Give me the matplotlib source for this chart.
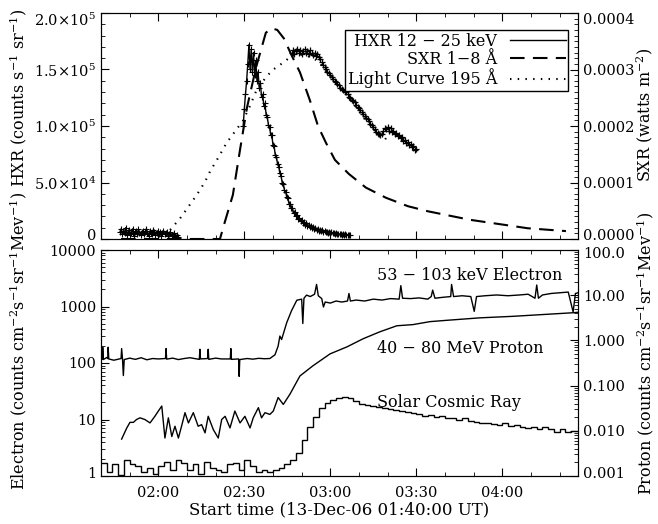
import matplotlib
matplotlib.use("Agg")
import matplotlib.pyplot as plt
import matplotlib.transforms as mtransforms
from matplotlib.ticker import (
    MultipleLocator,
    AutoMinorLocator,
    NullFormatter,
    FuncFormatter,
    LogLocator,
)

# times are minutes after 00:00 UT, 13-Dec-06

# ---------------- top panel ----------------
# HXR before the data gap, sampled every 0.4 min from 01:46.6
hxr_pre_start = 106.6
hxr_pre_flux = [6000, 9000, 4000, 7500, 5000, 10000, 3500, 6500, 8000, 4000,
                5500, 9000, 3000, 6000, 7000, 4500, 8500, 5000, 3500, 6500,
                7500, 4000, 6000, 9000, 5000, 3000, 7000, 5500, 4000, 8000,
                6000, 3500, 5000, 7000, 4500, 6000, 3000, 5500, 7500, 4000,
                5000, 6500, 3000, 4500, 6000, 3500, 2500, 5000, 3000, 2000,
                3500, 1500]

# HXR main burst, sampled every 0.4 min from 02:29.6
hxr_start = 149.6
hxr_flux = [100000, 115000, 128000, 140000, 155000, 172000, 150000, 168000,
            148000, 165000, 145000, 158000, 140000, 148000, 134000, 138000,
            126000, 128000, 118000, 120000, 110000, 108000, 101000, 99000,
            92000, 92000, 83000, 82000, 74000, 73000, 66000, 64000, 58000,
            56000, 50000, 49000, 43000, 42000, 37000, 36000, 31000, 31000,
            27000, 27000, 23000, 23500, 20000, 21000, 17500, 18500, 15500,
            16500, 14000, 15000, 12800, 13800, 11500, 12500, 10500, 11500,
            9500, 10500, 8800, 9600, 8000, 8800, 7400, 8200, 6900, 7600,
            6400, 7000, 6000, 6600, 5600, 6200, 5200, 5800, 4900, 5400,
            4600, 5000, 4300, 4700, 4000, 4400, 3800, 4200, 3500, 4000,
            3300, 3800, 3100, 3600]

sxr_time = [107.0, 139.0, 141.5, 142.9, 146.0, 148.5, 150.9, 154.1, 157.5,
            159.5, 161.5, 163.8, 166.5, 169.4, 172.9, 175.7, 178.5, 181.6,
            186.5, 192.4, 199.4, 207.1, 214.1, 228.7, 248.9, 262.2]
sxr_flux = [0.0, 0.0, 0.0, 2.5e-5, 7.8e-5, 1.58e-4, 2.32e-4, 3.04e-4, 3.65e-4,
            3.73e-4, 3.70e-4, 3.55e-4, 3.25e-4, 2.95e-4, 2.45e-4, 2.0e-4,
            1.7e-4, 1.4e-4, 1.15e-4, 9.1e-5, 7.3e-5, 5.8e-5, 4.9e-5, 3.4e-5,
            1.9e-5, 1.4e-5]

# 195 A light curve (dotted)
euv_time = [124.1, 127.6, 130.5, 133.4, 136.3, 138.0, 140.9, 143.8, 146.7,
            149.6, 152.0, 154.3, 157.8, 160.1, 162.4, 164.5, 166.5, 168.0,
            170.0, 172.0, 174.0, 176.0, 178.0, 180.0, 182.7, 184.4, 186.2,
            188.6, 191.4, 193.8, 195.5, 197.3, 199.1, 200.8, 202.5, 204.3,
            206.6, 208.8, 210.2]
euv_flux = [8000, 18300, 28600, 39000, 50700, 59600, 72000, 85000, 95000,
            105000, 118000, 132000, 144000, 150000, 154000, 158000, 162000,
            163000, 163000, 162000, 160000, 157000, 150000, 144000, 137000,
            130000, 126000, 118000, 108000, 101000, 96000, 90000, 88000,
            95000, 92000, 88000, 84000, 79000, 76000]

# 195 A samples drawn as crosses, every 0.5 min from 02:46.5
euv_plus_start = 166.5
euv_plus_flux = [165000, 167000, 164000, 166000, 168000, 165000, 167000,
                 164000, 166000, 168000, 165000, 166000, 164000, 167000,
                 165000, 163000, 165000, 162000, 164000, 161000, 159000,
                 157000, 154000, 152000, 150000, 148000, 147000, 145000,
                 143000, 142000, 140000, 139000, 137000, 136000, 134000,
                 133000, 132000, 131000, 130000, 128000, 126000, 125000,
                 123000, 122000, 121000, 119000, 117000, 116000, 114000,
                 112000, 111000, 109000, 107000, 106000, 104000, 102000,
                 101000, 99000, 97000, 95000, 94000, 93000, 92000, 93000,
                 96000, 98000, 97000, 99000, 96000, 98000, 95000, 96000,
                 93000, 94000, 91000, 92000, 89000, 90000, 87000, 88000,
                 85000, 86000, 83000, 84000, 81000, 82000, 79000, 80000]

# ---------------- bottom panel ----------------
elec_time = [100.0, 100.5, 100.6, 100.8, 102.0, 102.4, 102.5, 102.7, 104.5,
             107.0, 107.2, 107.5, 107.8, 108.1, 110.0, 112.0, 114.0, 116.0,
             118.0, 120.0, 122.5, 122.7, 122.9, 125.0, 127.0, 129.0, 131.0,
             134.3, 134.5, 134.7, 137.2, 137.4, 137.6, 140.0, 142.0, 145.1,
             145.3, 145.5, 148.0, 148.2, 148.4, 151.0, 153.0, 155.0, 157.0,
             158.9, 160.7, 161.8, 162.4, 163.0, 164.8, 166.5, 168.3, 170.0,
             170.4, 170.8, 171.7, 173.0, 174.5, 175.2, 175.8, 177.0, 177.6,
             178.2, 180.0, 182.0, 184.0, 186.0, 186.5, 187.0, 189.0, 192.0,
             195.0, 198.0, 201.0, 204.0, 204.6, 205.2, 208.0, 211.0, 214.0,
             215.2, 215.7, 216.5, 219.0, 222.0, 222.3, 223.0, 226.0, 229.0,
             230.2, 231.0, 234.0, 238.0, 242.0, 246.0, 249.0, 251.4, 252.0,
             252.6, 254.0, 257.0, 260.0, 263.0, 264.7, 265.5, 266.4]
elec_flux = [120, 118, 190, 115, 125, 120, 190, 118, 112,
             120, 180, 118, 60, 115, 122, 116, 124, 114,
             120, 118, 120, 180, 117, 122, 115, 120, 124,
             116, 175, 118, 120, 175, 116, 122, 118, 118,
             180, 116, 118, 58, 115, 120, 117, 121, 119,
             120, 140, 200, 300, 260, 520, 850, 1290, 1350,
             500, 1400, 1590, 1500, 1650, 2460, 1550, 1380, 980,
             1200, 1150, 1250, 1200, 1250, 1700, 1250, 1300, 1250,
             1350, 1300, 1380, 1350, 2340, 1400, 1380, 1420, 1350,
             1500, 1950, 1400, 1450, 1500, 2460, 1500, 1550, 1500,
             820, 1500, 1550, 1600, 1550, 1600, 1650, 1400, 2400,
             1400, 1600, 1700, 1750, 1800, 800, 1700, 1750]

prot_time = [107.2, 109.0, 110.1, 111.3, 112.4, 113.6, 115.3, 117.1, 118.8,
             120.0, 121.2, 122.3, 123.5, 124.7, 125.8, 127.0, 128.1, 129.3,
             130.5, 132.2, 133.9, 135.1, 136.3, 137.4, 139.2, 140.9, 142.1,
             143.3, 145.0, 146.7, 148.5, 150.2, 152.0, 153.1, 154.9, 156.0,
             157.2, 158.9, 160.1, 161.8, 163.6, 165.9, 169.4, 173.9, 179.9,
             185.8, 191.4, 197.3, 203.2, 208.8, 214.8, 220.7, 232.2, 243.7,
             264.6, 266.4]
prot_flux = [4.5, 7.1, 8.9, 8.9, 10.0, 10.7, 10.0, 8.7, 11.4,
             14.1, 17.3, 4.7, 10.7, 5.0, 7.6, 4.7, 7.6, 13.2,
             8.7, 13.2, 7.6, 8.1, 5.8, 11.4, 6.6, 4.7, 10.0,
             11.4, 7.1, 14.1, 8.7, 11.4, 7.1, 10.7, 16.2, 10.7,
             13.2, 12.3, 14.1, 24.5, 18.5, 28.0, 59.0, 89.0, 145.0,
             193.0, 268.0, 357.0, 456.0, 478.0, 540.0, 570.0, 630.0, 670.0,
             775.0, 790.0]

# solar cosmic ray, 2-minute bins starting at 01:40
scr_start = 100.0
scr_counts = [1.7, 1.2, 1.6, 1.05, 1.9, 1.6, 1.5, 1.2, 1.4, 1.1,
              1.5, 1.8, 1.3, 1.9, 1.7, 1.3, 1.6, 1.1, 1.8, 1.4,
              1.3, 1.2, 1.6, 1.7, 1.3, 1.9, 1.5, 1.2, 1.3, 1.2,
              1.3, 1.4, 1.6, 1.9, 2.6, 4.3, 7.5, 11.2, 15.8, 19.4,
              22.0, 24.4, 24.8, 23.7, 21.5, 18.8, 17.8, 17.3, 16.8, 16.3,
              15.1, 14.6, 14.1, 13.6, 12.9, 12.6, 11.7, 12.0, 11.2, 11.5,
              10.5, 10.7, 10.0, 10.5, 9.5, 9.2, 8.6, 8.8, 8.4, 8.0,
              8.8, 7.8, 8.0, 7.5, 7.2, 7.5, 6.9, 7.3, 6.8, 6.1,
              6.8, 5.9, 6.3]

t_min = 100.0
t_max = 266.4

plt.rcParams["font.family"] = "DejaVu Serif"
plt.rcParams["mathtext.fontset"] = "dejavuserif"
plt.rcParams["mathtext.default"] = "regular"
TICK_FS = 10.5
TEXT_FS = 11.5


def hhmm(m, pos=None):
    return f"{int(m // 60):02d}:{int(round(m % 60)):02d}"


def grid(start, step, n):
    return [start + step * i for i in range(n)]


def style_time_axis(ax, labels):
    ax.set_xlim(t_min, t_max)
    ax.xaxis.set_major_locator(MultipleLocator(30))
    ax.xaxis.set_minor_locator(MultipleLocator(10))
    if labels:
        ax.xaxis.set_major_formatter(FuncFormatter(hhmm))
    else:
        ax.xaxis.set_major_formatter(NullFormatter())
    ax.tick_params(axis="x", which="both", direction="in",
                   top=True, bottom=True, labelsize=TICK_FS, pad=7)
    ax.tick_params(axis="x", which="major", length=6)
    ax.tick_params(axis="x", which="minor", length=3)


def style_y(ax, minor_len=3):
    ax.tick_params(axis="y", which="both", direction="in",
                   labelsize=TICK_FS)
    ax.tick_params(axis="y", which="major", length=6)
    ax.tick_params(axis="y", which="minor", length=minor_len)


def nudge(label, dy_px):
    off = mtransforms.ScaledTranslation(0, dy_px / 100.0,
                                        fig.dpi_scale_trans)
    label.set_transform(label.get_transform() + off)


fig = plt.figure(figsize=(6.58, 5.24), dpi=100)

W = 658.0
H = 524.0
left = 101 / W
width = 477 / W

ax_top = fig.add_axes([left, 1 - 239 / H, width, 226 / H])
ax_bot = fig.add_axes([left, 1 - 476 / H, width, 226 / H])

# =====================================
# TOP PANEL
# =====================================

ax_sxr = ax_top.twinx()

h_hxr, = ax_top.plot(grid(hxr_start, 0.4, len(hxr_flux)), hxr_flux,
                     color="black", lw=1.0, marker="+", ms=4.5, mew=0.8)
ax_top.plot(grid(hxr_pre_start, 0.4, len(hxr_pre_flux)), hxr_pre_flux,
            color="black", lw=1.0, marker="+", ms=4.5, mew=0.8)

h_euv, = ax_top.plot(euv_time, euv_flux, color="black", lw=1.5,
                     dashes=(0.7, 3))
ax_top.plot(grid(euv_plus_start, 0.5, len(euv_plus_flux)), euv_plus_flux,
            ls="none", color="black", marker="+", ms=5, mew=0.9)

h_sxr, = ax_sxr.plot(sxr_time, sxr_flux, color="black", lw=1.5,
                     dashes=(7, 4))

ax_top.set_ylim(0, 2.0e5)
ax_top.set_yticks([0, 5e4, 1e5, 1.5e5, 2e5])
ax_top.set_yticklabels(["0", r"5.0×10$^{4}$", r"1.0×10$^{5}$",
                        r"1.5×10$^{5}$", r"2.0×10$^{5}$"])
ax_top.yaxis.set_minor_locator(MultipleLocator(1e4))
style_y(ax_top)
style_time_axis(ax_top, labels=False)

ax_sxr.set_ylim(0, 4e-4)
ax_sxr.set_yticks([0, 1e-4, 2e-4, 3e-4, 4e-4])
ax_sxr.set_yticklabels(["0.0000", "0.0001", "0.0002", "0.0003", "0.0004"])
ax_sxr.yaxis.set_minor_locator(AutoMinorLocator(10))
style_y(ax_sxr)

leg = ax_top.legend(
    [h_hxr, h_sxr, h_euv],
    ["HXR 12 − 25 keV", "SXR 1−8 Å", "Light Curve 195 Å"],
    loc="upper right",
    bbox_to_anchor=(0.98, 0.925),
    bbox_transform=ax_top.transAxes,
    borderaxespad=0,
    markerfirst=False,
    handlelength=3.5,
    handletextpad=0.8,
    labelspacing=0.05,
    borderpad=0.18,
    fancybox=False,
    framealpha=1,
    edgecolor="black",
    fontsize=TEXT_FS,
)
leg.get_frame().set_linewidth(1.0)
for line in leg.get_lines():
    line.set_marker("")

# =====================================
# BOTTOM PANEL
# =====================================

ax_prot = ax_bot.twinx()

ax_bot.plot(elec_time, elec_flux, color="black", lw=1.0)
ax_bot.plot(prot_time, prot_flux, color="black", lw=1.0)

scr_edges = grid(scr_start, 2.0, len(scr_counts) + 1)
ax_bot.stairs(scr_counts, scr_edges, color="black", lw=1.0, baseline=None)

ax_bot.set_yscale("log")
ax_bot.set_ylim(1, 1e4)
ax_bot.set_yticks([1, 10, 100, 1000, 10000])
ax_bot.set_yticklabels(["1", "10", "100", "1000", "10000"])
ax_bot.yaxis.set_minor_locator(LogLocator(base=10, subs=range(2, 10)))
ax_bot.yaxis.set_minor_formatter(NullFormatter())
style_y(ax_bot)
style_time_axis(ax_bot, labels=True)

ax_prot.set_yscale("log")
ax_prot.set_ylim(1e-3, 1e2)
ax_prot.set_yticks([1e-3, 1e-2, 1e-1, 1, 10, 100])
ax_prot.set_yticklabels(["0.001", "0.010", "0.100", "1.000", "10.00",
                         "100.0"])
ax_prot.yaxis.set_minor_locator(LogLocator(base=10, subs=range(2, 10)))
ax_prot.yaxis.set_minor_formatter(NullFormatter())
style_y(ax_prot)

ax_bot.text(196.3, 3600, "53 − 103 keV Electron", fontsize=TEXT_FS,
            va="center", ha="left")
ax_bot.text(196.3, 184, "40 − 80 MeV Proton", fontsize=TEXT_FS,
            va="center", ha="left")
ax_bot.text(196.3, 19.6, "Solar Cosmic Ray", fontsize=TEXT_FS,
            va="center", ha="left")

ax_bot.set_xlabel("Start time (13-Dec-06 01:40:00 UT)", fontsize=12,
                  labelpad=1)

# edge tick labels sit a little inside the panel, as in the original
top_left = ax_top.get_yticklabels()
top_right = ax_sxr.get_yticklabels()
nudge(top_left[0], 4)
nudge(top_left[-1], -6)
nudge(top_right[0], 4)
nudge(top_right[-1], -6)
nudge(ax_bot.get_yticklabels()[0], 4)
nudge(ax_prot.get_yticklabels()[0], 4)
nudge(ax_prot.get_yticklabels()[-1], -2)

# =====================================
# AXIS TITLES
# =====================================

fig.text(18 / W, 1 - 187 / H, r"HXR (counts s$^{-1}$ sr$^{-1}$)",
         rotation=90, ha="center", va="bottom", fontsize=TEXT_FS)
fig.text(18 / W, 1 - 490 / H,
         r"Electron (counts cm$^{-2}$s$^{-1}$sr$^{-1}$Mev$^{-1}$)",
         rotation=90, ha="center", va="bottom", fontsize=TEXT_FS)
fig.text(645 / W, 1 - 182 / H, r"SXR (watts m$^{-2}$)",
         rotation=90, ha="center", va="bottom", fontsize=TEXT_FS)
fig.text(645 / W, 1 - 495 / H,
         r"Proton (counts cm$^{-2}$s$^{-1}$sr$^{-1}$Mev$^{-1}$)",
         rotation=90, ha="center", va="bottom", fontsize=TEXT_FS)

fig.savefig("out.png", dpi=100)
plt.close(fig)
